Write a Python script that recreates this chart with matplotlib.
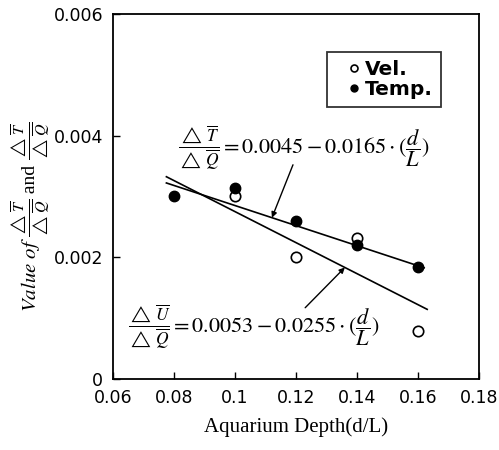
import matplotlib.pyplot as plt
import numpy as np

plt.rcParams['mathtext.fontset'] = 'stix'

# data
depth = [0.08, 0.10, 0.12, 0.14, 0.16]
temp = [0.0030, 0.00314, 0.0026, 0.0022, 0.00184]
vel_depth = [0.10, 0.12, 0.14, 0.16]
vel = [0.0030, 0.0020, 0.00232, 0.00079]

# fitted lines: value = a - b * (d/L)
temp_fit = (0.0045, 0.0165)
vel_fit = (0.0053, 0.0255)
fit_start = 0.0775
temp_end = 0.162
vel_end = 0.163

x_ticks = [0.06, 0.08, 0.10, 0.12, 0.14, 0.16, 0.18]
x_tick_labels = ['0.06', '0.08', '0.1', '0.12', '0.14', '0.16', '0.18']
y_ticks = [0, 0.002, 0.004, 0.006]
y_tick_labels = ['0', '0.002', '0.004', '0.006']

frac_T = r'$\dfrac{\triangle\,\overline{T}}{\triangle\,\overline{Q}}$'
frac_U = r'$\dfrac{\triangle\,\overline{U}}{\triangle\,\overline{Q}}$'


def fit(coef, x):
    return coef[0] - coef[1] * x


def equation(ax, x, y, frac, rest):
    # small fraction followed by the rest of the formula
    t = ax.text(x, y, frac, fontsize=12.5, ha='left', va='center')
    ax.annotate(rest, xy=(1, 0.5), xycoords=t, ha='left', va='center', fontsize=16)


def main():
    fig = plt.figure(figsize=(4.99, 4.5), dpi=100)
    ax = fig.add_axes([0.2265, 0.158, 0.7335, 0.811])

    xt = np.array([fit_start, temp_end])
    ax.plot(xt, fit(temp_fit, xt), color='black', lw=1.2)
    xv = np.array([fit_start, vel_end])
    ax.plot(xv, fit(vel_fit, xv), color='black', lw=1.2)

    ax.plot(vel_depth, vel, 'o', mfc='white', mec='black', ms=7.5, mew=1.2, label='Vel.')
    ax.plot(depth, temp, 'o', mfc='black', mec='black', ms=7.5, label='Temp.')

    ax.set_xlim(0.06, 0.18)
    ax.set_ylim(0, 0.006)
    ax.set_xticks(x_ticks)
    ax.set_xticklabels(x_tick_labels)
    ax.set_yticks(y_ticks)
    ax.set_yticklabels(y_tick_labels)
    ax.tick_params(direction='in', length=5, width=1, labelsize=12.5)
    ax.tick_params(axis='x', pad=7)
    ax.tick_params(axis='y', pad=7)
    for lab in ax.get_xticklabels() + ax.get_yticklabels():
        lab.set_family('DejaVu Sans')
    for s in ax.spines.values():
        s.set_linewidth(1.3)

    ax.set_xlabel('Aquarium Depth(d/L)', family='Liberation Serif', fontsize=15, labelpad=8)

    # y label built from pieces so the fractions stay small
    p = ax.text(-0.226, 0.184, r'$Value\ of$', fontsize=15, rotation=90,
                ha='center', va='bottom', transform=ax.transAxes)
    for piece, size in [(frac_T, 11.5), (' and ', 14), (frac_T, 11.5)]:
        p = ax.annotate(piece, xy=(0.5, 1), xycoords=p, fontsize=size, rotation=90,
                        ha='center', va='bottom', family='Liberation Serif')

    equation(ax, 0.0813, 0.0038, frac_T, r'$= 0.0045 - 0.0165 \cdot (\dfrac{d}{L})$')
    equation(ax, 0.0649, 0.00086, frac_U, r'$= 0.0053 - 0.0255 \cdot (\dfrac{d}{L})$')

    arrow = dict(arrowstyle='-|>', color='black', lw=1, shrinkA=0, shrinkB=0, mutation_scale=8)
    ax.annotate('', xy=(0.1121, fit(temp_fit, 0.1121)), xytext=(0.119, 0.00352), arrowprops=arrow)
    ax.annotate('', xy=(0.136, fit(vel_fit, 0.136)), xytext=(0.123, 0.00117), arrowprops=arrow)

    leg = ax.legend(loc='upper right', bbox_to_anchor=(0.895, 0.897), borderaxespad=0,
                    frameon=True, fancybox=False, edgecolor='black', handletextpad=-0.35,
                    handlelength=1.8, borderpad=0.4, labelspacing=0.05,
                    prop={'family': 'DejaVu Sans', 'size': 14.5, 'weight': 'bold'})
    leg.get_frame().set_linewidth(1.3)
    for h in leg.legend_handles:
        h.set_markersize(5)

    fig.savefig('out.png', dpi=100)


if __name__ == "__main__":
    main()
